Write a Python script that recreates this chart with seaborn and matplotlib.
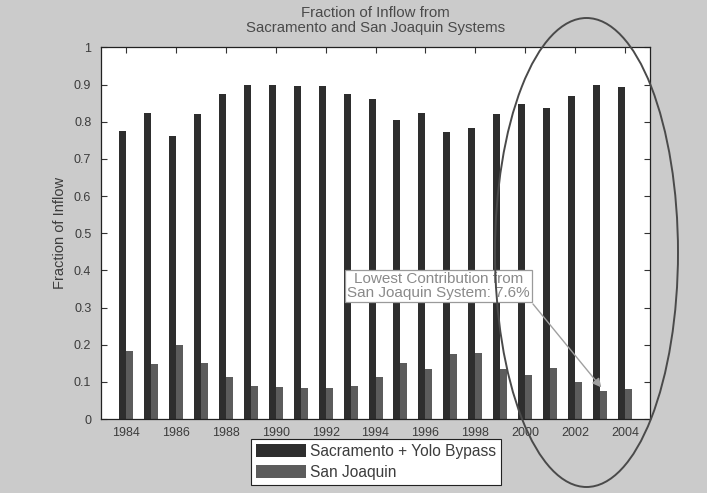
import matplotlib
matplotlib.use("Agg")
import matplotlib.pyplot as plt
from matplotlib.patches import Ellipse
import seaborn as sns
import pandas as pd

# Annual inflow fractions by source system
years = list(range(1984, 2005))
sacramento_yolo = [0.774, 0.824, 0.763, 0.821, 0.874, 0.899, 0.899, 0.896, 0.896, 0.874,
                   0.860, 0.806, 0.824, 0.773, 0.782, 0.821, 0.847, 0.836, 0.869, 0.898, 0.893]
san_joaquin = [0.183, 0.148, 0.199, 0.152, 0.114, 0.089, 0.087, 0.083, 0.083, 0.089,
               0.114, 0.150, 0.135, 0.175, 0.177, 0.134, 0.118, 0.137, 0.101, 0.076, 0.080]
series_names = ["Sacramento + Yolo Bypass", "San Joaquin"]
y_ticks = [0, 0.1, 0.2, 0.3, 0.4, 0.5, 0.6, 0.7, 0.8, 0.9, 1]
y_tick_labels = ["0", "0.1", "0.2", "0.3", "0.4", "0.5", "0.6", "0.7", "0.8", "0.9", "1"]
x_ticks = list(range(1984, 2005, 2))
lowest_year = 2003
lowest_value = san_joaquin[years.index(lowest_year)]

df = pd.DataFrame({
    "year": years * 2,
    "fraction": sacramento_yolo + san_joaquin,
    "series": [series_names[0]] * len(years) + [series_names[1]] * len(years),
})

sns.set_theme(style="ticks")
plt.rcParams["font.family"] = ["Liberation Sans", "DejaVu Sans"]

bg = "#cbcbcb"
txt = "#3c3c3c"
fig = plt.figure(figsize=(7.07, 4.93), dpi=100, facecolor=bg)
ax = fig.add_axes([0.1429, 0.150, 0.7765, 0.7537])
ax.set_facecolor("white")

sns.barplot(data=df, x="year", y="fraction", hue="series", native_scale=True,
            palette=["#2e2e2e", "#5c5c5c"], width=0.56, saturation=1,
            errorbar=None, linewidth=0, ax=ax)

ax.set_xlim(1983, 2005)
ax.set_ylim(0, 1)
ax.set_xticks(x_ticks)
ax.set_xticklabels([str(y) for y in x_ticks])
ax.set_yticks(y_ticks)
ax.set_yticklabels(y_tick_labels)
ax.tick_params(direction="in", top=True, right=True, length=4, width=0.8,
               labelsize=9, labelcolor=txt, color="#333333")
ax.tick_params(axis="x", pad=6)
ax.tick_params(axis="y", pad=7)
for s in ax.spines.values():
    s.set_color("#222222")
    s.set_linewidth(0.9)
ax.set_xlabel("")
ax.set_ylabel("Fraction of Inflow", fontsize=10.5, color=txt, labelpad=5)
ax.set_title("Fraction of Inflow from\nSacramento and San Joaquin Systems",
             fontsize=10.8, color="#4a4a4a", pad=11, linespacing=1.1)

handles, labels = ax.get_legend_handles_labels()
if ax.get_legend() is not None:
    ax.get_legend().remove()
fig.legend(handles, labels, loc="center", bbox_to_anchor=(376 / 707, 1 - 462 / 493),
           bbox_transform=fig.transFigure, fontsize=11.2, frameon=True, fancybox=False,
           edgecolor="#222222", facecolor="white", framealpha=1,
           handlelength=3.2, handleheight=0.95, handletextpad=0.3,
           labelspacing=0.38, borderpad=0.3, borderaxespad=0)
leg = fig.legends[-1]
leg.get_frame().set_linewidth(0.8)
for t in leg.get_texts():
    t.set_color(txt)

ax.annotate(f"Lowest Contribution from\nSan Joaquin System: {lowest_value * 100:.1f}%",
            xy=(lowest_year + 0.05, lowest_value + 0.009),
            xytext=(1996.53, 0.358), textcoords="data",
            ha="center", va="center", fontsize=11, color="#8a8a8a", linespacing=1.05,
            bbox=dict(boxstyle="square,pad=0.14", facecolor="white",
                      edgecolor="#9a9a9a", linewidth=0.9),
            arrowprops=dict(arrowstyle="-|>", color="#a0a0a0", lw=1.0,
                            mutation_scale=13, relpos=(1.0, 0.0), shrinkA=1, shrinkB=0),
            zorder=5)

# Highlight the recent years with an outline drawn over the whole figure
ring = Ellipse((586.5 / 707, 1 - 252.5 / 493), 183 / 707, 469 / 493,
               transform=fig.transFigure, fill=False, edgecolor="#4a4a4a",
               linewidth=1.4, zorder=10, clip_on=False)
fig.add_artist(ring)

fig.savefig("out.png", dpi=100, facecolor=bg)
